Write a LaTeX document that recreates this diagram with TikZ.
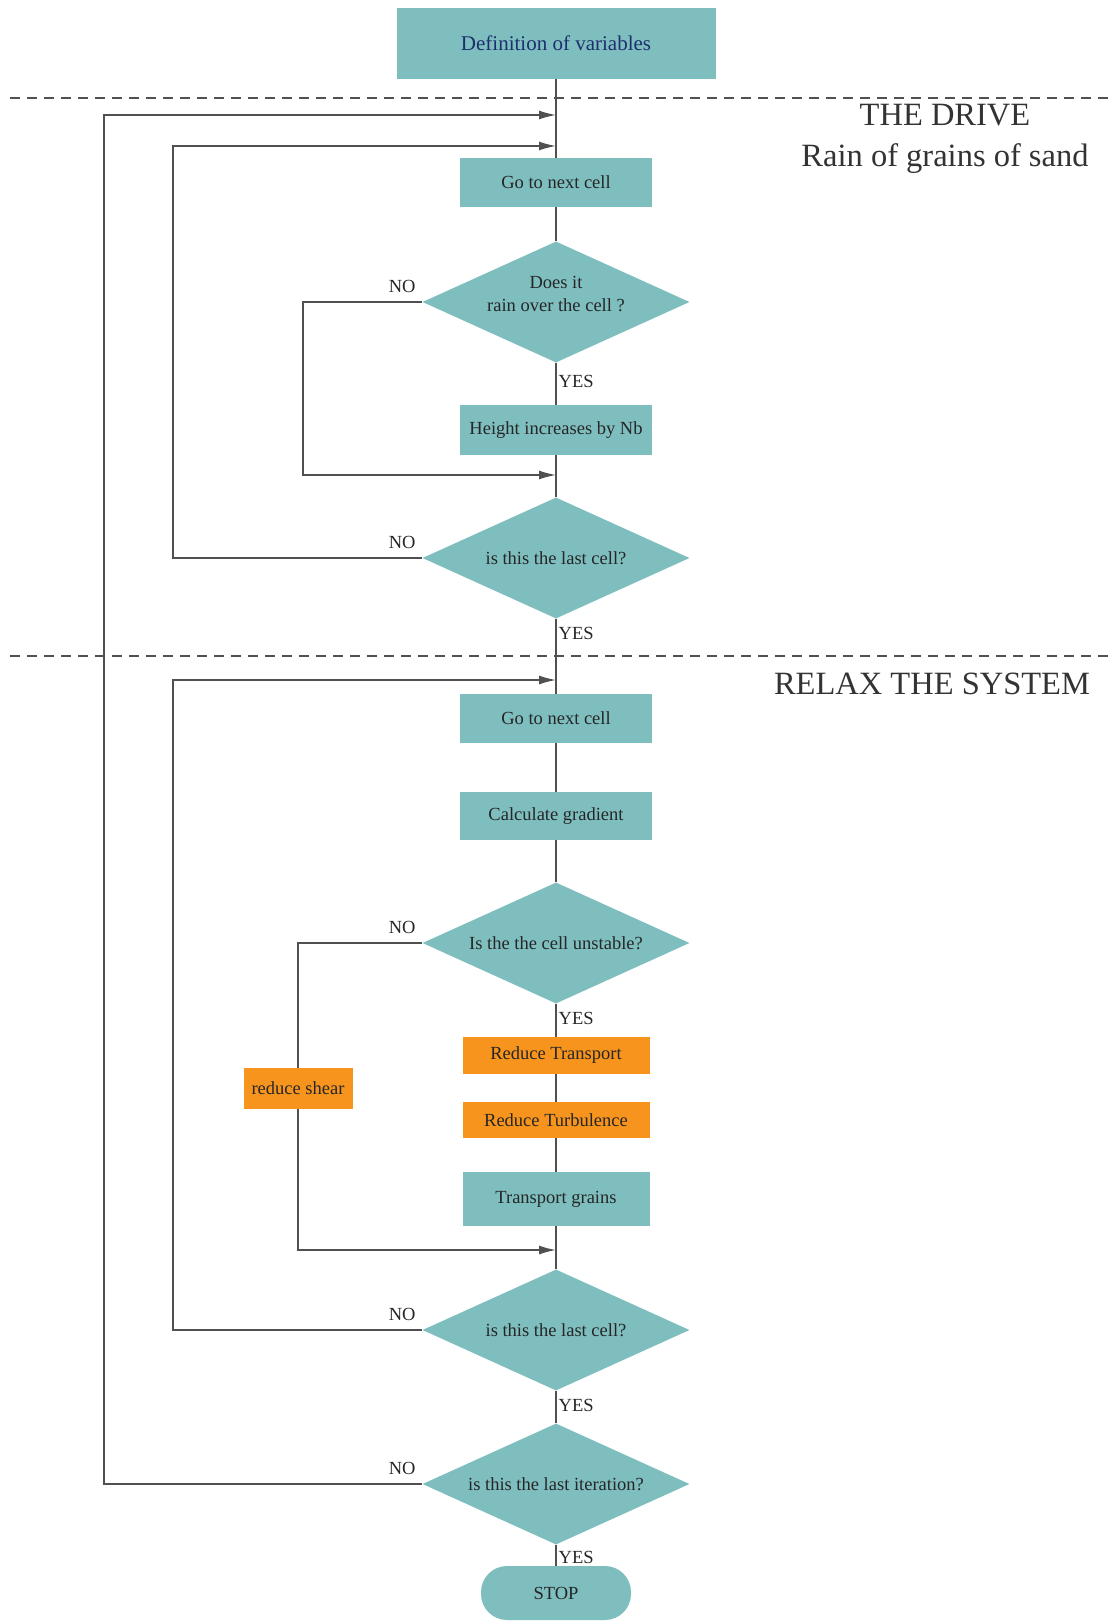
\documentclass[tikz,border=0pt]{standalone}
\usepackage{fontspec}
\setmainfont{Liberation Serif}
\usetikzlibrary{shapes.geometric,arrows.meta,positioning}
\definecolor{boxteal}{RGB}{127,190,191}
\definecolor{boxorange}{RGB}{247,148,29}
\definecolor{linegray}{RGB}{80,80,80}
\definecolor{defblue}{RGB}{28,48,110}
\newcommand{\boxfont}{\fontsize{18.5}{22}\selectfont}
\newcommand{\titlefont}{\fontsize{32.5}{41}\selectfont}

\begin{document}
\begin{tikzpicture}[x=1pt,y=-1pt,
    box node/.style={rectangle, fill=boxteal, minimum width=192pt, minimum height=49pt, inner sep=0pt, font=\boxfont, text=black!85},
    alert node/.style={rectangle, fill=boxorange, minimum width=187pt, minimum height=36pt, inner sep=0pt, font=\boxfont, text=black!85},
    test node/.style={diamond, fill=boxteal, aspect=2.2, minimum width=267pt, minimum height=121pt, inner sep=0pt, font=\boxfont, text=black!85, align=center},
    end node/.style={rectangle, rounded corners=26pt, fill=boxteal, minimum width=150pt, minimum height=54pt, font=\boxfont, text=black!85},
    title node/.style={font=\titlefont, align=center, text=black!80},
    answer/.style={font=\boxfont, text=black!85, inner sep=2pt},
    main line/.style={draw=linegray, line width=1.4pt},
    back line/.style={main line, -{Latex[length=17pt,width=9pt]}},
    part line/.style={draw=linegray, line width=1.4pt, dash pattern=on 10pt off 7pt}]
    \useasboundingbox (0,0) rectangle (1115,1621);

    % the drive
    \node[box node, minimum width=319pt, minimum height=71pt, font=\fontsize{21}{25}\selectfont, text=defblue] (1) at (556,43.5) {Definition of variables};
    \node[box node] (2) [below of=1, node distance=139pt] {Go to next cell};
    \node[test node] (3) [below of=2, node distance=119.5pt] {\raisebox{3pt}[\dimexpr\height-3pt][\dimexpr\depth+3pt]{\begin{tabular}{@{}c@{}}Does it\\[1pt]rain over the cell ?\end{tabular}}};
    \node[box node, minimum height=50pt] (4) [below of=3, node distance=128pt] {Height increases by Nb};
    \node[test node] (5) [below of=4, node distance=128pt] {is this the last cell?};

    % relax the system
    \node[box node] (6) [below of=5, node distance=160.5pt] {Go to next cell};
    \node[box node, minimum height=48pt] (7) [below of=6, node distance=97.5pt] {Calculate gradient};
    \node[test node] (8) [below of=7, node distance=127pt] {Is the the cell unstable?};
    \node[alert node, minimum height=37pt] (9) [below of=8, node distance=112.5pt] {Reduce Transport};
    \node[alert node] (10) [below of=9, node distance=64.5pt] {Reduce Turbulence};
    \node[box node, minimum width=187pt, minimum height=54pt] (11) [below of=10, node distance=79pt] {Transport grains};
    \node[test node] (12) [below of=11, node distance=131pt] {is this the last cell?};
    \node[test node] (13) [below of=12, node distance=154pt] {is this the last iteration?};
    \node[end node] (14) [below of=13, node distance=109pt] {STOP};
    \node[alert node, minimum width=109pt, minimum height=41pt] (15) at (298,1088.5) {reduce shear};

    \node[title node] (16) at (945,139) {THE DRIVE\\Rain of grains of sand};
    \node[title node] (17) at (932,684) {RELAX THE SYSTEM};

    \coordinate (m1) at (556,115);
    \coordinate (m2) at (556,146);
    \coordinate (m3) at (556,475);
    \coordinate (m4) at (556,680);
    \coordinate (m5) at (556,1250);

    \draw[part line] (10,98) -- (1108,98);
    \draw[part line] (10,656) -- (1108,656);

    \path[main line, every node/.style={answer, anchor=north west, pos=0, yshift=-6pt}]
    (1) edge (2)
    (2) edge (3)
    (3) edge node[yshift=-4pt] {YES} (4)
    (4) edge (5)
    (5) edge node {YES} (6)
    (6) edge (7)
    (7) edge (8)
    (8) edge node {YES} (9)
    (9) edge (10)
    (10) edge (11)
    (11) edge (12)
    (12) edge node {YES} (13)
    (13) edge node[yshift=2pt] {YES} (14);

    \draw[back line] (3.west) node[answer, anchor=south east, xshift=-4pt, yshift=7pt] {NO} -- ++(-119.5,0) |- (m3);
    \draw[back line] (5.west) node[answer, anchor=south east, xshift=-4pt, yshift=7pt] {NO} -- ++(-249.5,0) |- (m2);
    \draw[main line] (8.west) node[answer, anchor=south east, xshift=-4pt, yshift=7pt] {NO} -| (15.north);
    \draw[back line] (15.south) |- (m5);
    \draw[back line] (12.west) node[answer, anchor=south east, xshift=-4pt, yshift=7pt] {NO} -- ++(-249.5,0) |- (m4);
    \draw[back line] (13.west) node[answer, anchor=south east, xshift=-4pt, yshift=7pt] {NO} -- ++(-318.5,0) |- (m1);
  \end{tikzpicture}
\end{document}
